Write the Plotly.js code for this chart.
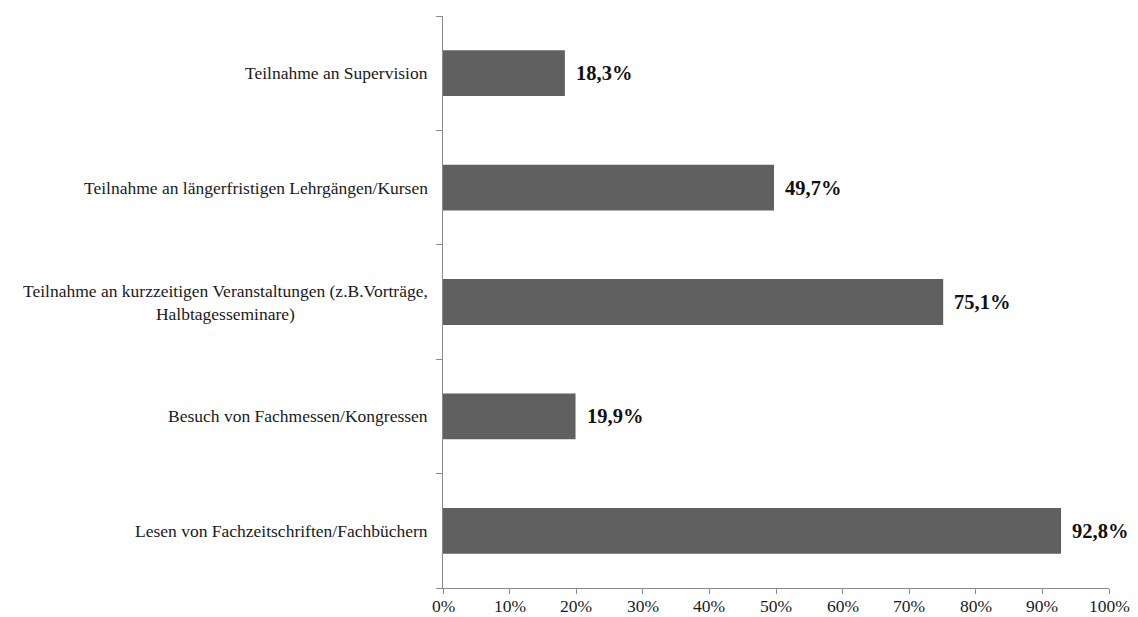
<!DOCTYPE html>
<html>
<head>
<meta charset="utf-8">
<script src="https://cdn.plot.ly/plotly-3.0.1.min.js"></script>
<style>html,body{margin:0;padding:0;background:#fff;}#chart{width:1138px;height:617px;}</style>
</head>
<body>
<div id="chart"></div>
<script>
const categories = [
  "Lesen von Fachzeitschriften/Fachbüchern",
  "Besuch von Fachmessen/Kongressen",
  "Teilnahme an kurzzeitigen Veranstaltungen (z.B.Vorträge,<br>Halbtagesseminare)",
  "Teilnahme an längerfristigen Lehrgängen/Kursen",
  "Teilnahme an Supervision"
];
const values = [92.8, 19.9, 75.1, 49.7, 18.3];
const valueLabels = ["92,8%", "19,9%", "75,1%", "49,7%", "18,3%"];
const xTickVals = [0,10,20,30,40,50,60,70,80,90,100];
const xTickText = ["0%","10%","20%","30%","40%","50%","60%","70%","80%","90%","100%"];

const font = "Liberation Serif";
const annotations = [];
categories.forEach((c, i) => {
  annotations.push({
    xref: "paper", yref: "y", x: 0, y: c, text: c,
    xanchor: "right", yanchor: "middle", align: "center",
    xshift: -13, showarrow: false,
    font: {family: font, size: 17.5, color: "#1a1a1a"}
  });
  annotations.push({
    xref: "x", yref: "y", x: values[i], y: c, text: "<b>" + valueLabels[i] + "</b>",
    xanchor: "left", yanchor: "middle", xshift: 9, showarrow: false,
    font: {family: font, size: 20.5, color: "#111"}
  });
});
xTickVals.forEach((v, i) => {
  annotations.push({
    xref: "x", yref: "paper", x: v, y: 0, text: xTickText[i],
    xanchor: "center", yanchor: "top", yshift: -6, showarrow: false,
    font: {family: font, size: 17.5, color: "#1a1a1a"}
  });
});

Plotly.newPlot("chart", [{
  type: "bar", orientation: "h",
  y: categories, x: values,
  width: 0.4,
  marker: {color: "#606060"},
  hoverinfo: "none"
}], {
  width: 1138, height: 617,
  font: {family: font, color: "#1a1a1a"},
  margin: {l: 443, r: 28.5, t: 15.5, b: 29},
  paper_bgcolor: "#fff", plot_bgcolor: "#fff",
  showlegend: false,
  xaxis: {
    range: [0, 100], tickvals: xTickVals, showticklabels: false,
    showgrid: false, zeroline: false,
    showline: true, linecolor: "#8a8a8a", linewidth: 1,
    ticks: "outside", ticklen: 5, tickcolor: "#8a8a8a"
  },
  yaxis: {
    type: "category", categoryorder: "array", categoryarray: categories,
    range: [-0.5, 4.5],
    showticklabels: false, tickson: "boundaries",
    showgrid: false, zeroline: false,
    showline: true, linecolor: "#8a8a8a", linewidth: 1,
    ticks: "outside", ticklen: 6, tickcolor: "#8a8a8a"
  },
  annotations: annotations
}, {displayModeBar: false, staticPlot: true});
</script>
</body>
</html>
